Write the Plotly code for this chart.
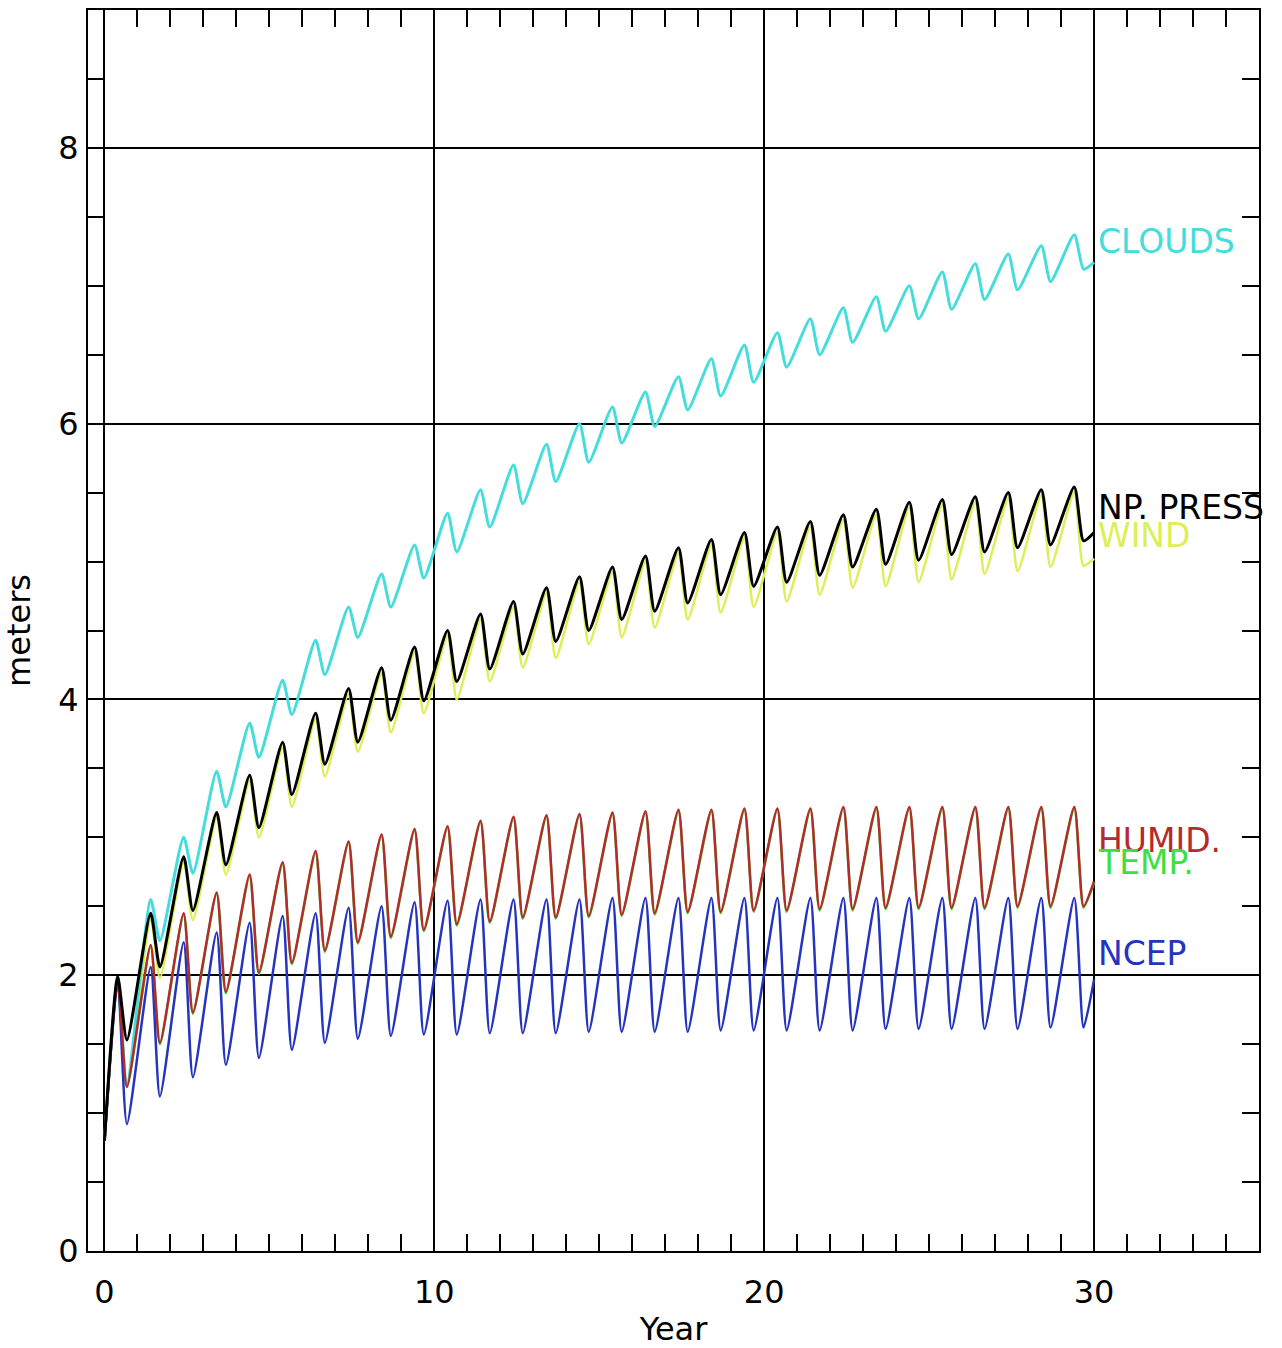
import plotly.graph_objects as go

# ---- data ----
n_years = 30
peak_phase = 0.4     # fraction of year at seasonal peak
trough_phase = 0.68  # fraction of year at seasonal trough
start_value = 0.8
end_year = 30.0

clouds_peaks = [1.98, 2.55, 3.00, 3.48, 3.83, 4.14, 4.43, 4.67, 4.91, 5.12,
                5.35, 5.52, 5.70, 5.85, 6.00, 6.12, 6.23, 6.34, 6.47, 6.57,
                6.66, 6.76, 6.84, 6.92, 7.00, 7.10, 7.16, 7.23, 7.29, 7.37]
clouds_troughs = [1.20, 2.25, 2.74, 3.22, 3.58, 3.89, 4.18, 4.45, 4.67, 4.88,
                  5.07, 5.25, 5.42, 5.58, 5.72, 5.86, 5.98, 6.10, 6.20, 6.30,
                  6.41, 6.50, 6.59, 6.67, 6.76, 6.83, 6.90, 6.97, 7.03, 7.12]
clouds_end = 7.17

press_peaks = [1.99, 2.45, 2.86, 3.18, 3.45, 3.69, 3.90, 4.08, 4.23, 4.38,
               4.50, 4.62, 4.71, 4.81, 4.89, 4.96, 5.04, 5.10, 5.16, 5.21,
               5.25, 5.29, 5.34, 5.38, 5.43, 5.45, 5.47, 5.50, 5.52, 5.54]
press_troughs = [1.53, 2.06, 2.47, 2.80, 3.07, 3.31, 3.53, 3.69, 3.85, 3.99,
                 4.13, 4.22, 4.33, 4.42, 4.50, 4.58, 4.64, 4.70, 4.76, 4.82,
                 4.85, 4.90, 4.96, 4.98, 5.01, 5.05, 5.07, 5.10, 5.12, 5.15]
press_end = 5.21

wind_peaks = [1.96, 2.41, 2.82, 3.14, 3.41, 3.65, 3.86, 4.04, 4.19, 4.34,
              4.46, 4.58, 4.67, 4.77, 4.85, 4.92, 5.00, 5.06, 5.12, 5.17,
              5.21, 5.25, 5.30, 5.34, 5.39, 5.41, 5.43, 5.46, 5.48, 5.50]
wind_troughs = [1.20, 1.98, 2.40, 2.73, 3.00, 3.22, 3.44, 3.62, 3.76, 3.90,
                4.00, 4.13, 4.23, 4.30, 4.40, 4.45, 4.52, 4.58, 4.63, 4.67,
                4.71, 4.76, 4.81, 4.82, 4.85, 4.87, 4.91, 4.93, 4.96, 4.97]
wind_end = 5.02

humid_peaks = [1.97, 2.22, 2.45, 2.60, 2.73, 2.82, 2.90, 2.97, 3.02, 3.06,
               3.08, 3.12, 3.15, 3.16, 3.17, 3.18, 3.19, 3.20, 3.20, 3.21,
               3.21, 3.21, 3.22, 3.22, 3.22, 3.22, 3.22, 3.22, 3.22, 3.22]
humid_troughs = [1.19, 1.51, 1.73, 1.88, 2.02, 2.09, 2.18, 2.24, 2.28, 2.33,
                 2.37, 2.39, 2.42, 2.42, 2.43, 2.44, 2.45, 2.46, 2.46, 2.47,
                 2.47, 2.48, 2.48, 2.49, 2.49, 2.49, 2.49, 2.50, 2.50, 2.50]
humid_end = 2.68

temp_peaks = [1.96, 2.21, 2.44, 2.59, 2.72, 2.81, 2.89, 2.96, 3.01, 3.05,
              3.07, 3.11, 3.14, 3.15, 3.16, 3.17, 3.18, 3.19, 3.19, 3.20,
              3.20, 3.20, 3.21, 3.21, 3.21, 3.21, 3.21, 3.21, 3.21, 3.21]
temp_troughs = [1.19, 1.50, 1.72, 1.87, 2.01, 2.08, 2.17, 2.23, 2.27, 2.32,
                2.36, 2.38, 2.41, 2.41, 2.42, 2.43, 2.44, 2.45, 2.45, 2.46,
                2.46, 2.47, 2.47, 2.48, 2.48, 2.48, 2.48, 2.49, 2.49, 2.49]
temp_end = 2.67

ncep_peaks = [1.96, 2.06, 2.24, 2.31, 2.38, 2.43, 2.45, 2.49, 2.50, 2.53,
              2.54, 2.55, 2.55, 2.55, 2.55, 2.56, 2.56, 2.56, 2.56, 2.56,
              2.56, 2.56, 2.56, 2.56, 2.56, 2.56, 2.56, 2.56, 2.56, 2.56]
ncep_troughs = [0.92, 1.12, 1.26, 1.35, 1.40, 1.46, 1.51, 1.54, 1.56, 1.57,
                1.57, 1.58, 1.58, 1.58, 1.59, 1.59, 1.59, 1.59, 1.60, 1.60,
                1.60, 1.60, 1.60, 1.61, 1.61, 1.61, 1.61, 1.61, 1.62, 1.62]
ncep_end = 1.97

series_names = ["WIND", "TEMP.", "CLOUDS", "NCEP", "HUMID.", "NP. PRESS"]
label_y = {"CLOUDS": 7.32, "NP. PRESS": 5.39, "WIND": 5.19,
           "HUMID.": 2.98, "TEMP.": 2.82, "NCEP": 2.16}
x_ticks = [0, 10, 20, 30]
y_ticks = [0, 2, 4, 6, 8]

# ---- styling ----
colors = {"CLOUDS": "#45dcdc", "NP. PRESS": "#000000", "WIND": "#dcef55",
          "HUMID.": "#b52a2a", "TEMP.": "#3ee03e", "NCEP": "#2434bf"}
widths = {"CLOUDS": 3, "NP. PRESS": 3, "WIND": 2.5,
          "HUMID.": 2.5, "TEMP.": 2.5, "NCEP": 2.5}
data = {
    "CLOUDS": (clouds_peaks, clouds_troughs, clouds_end),
    "NP. PRESS": (press_peaks, press_troughs, press_end),
    "WIND": (wind_peaks, wind_troughs, wind_end),
    "HUMID.": (humid_peaks, humid_troughs, humid_end),
    "TEMP.": (temp_peaks, temp_troughs, temp_end),
    "NCEP": (ncep_peaks, ncep_troughs, ncep_end),
}


def build(peaks, troughs, end):
    xs, ys = [0.0], [start_value]
    for i in range(n_years):
        xs += [i + peak_phase, i + trough_phase]
        ys += [peaks[i], troughs[i]]
    xs.append(end_year)
    ys.append(end)
    return xs, ys


FONT = "DejaVu Sans"
fig = go.Figure()
for name in series_names:
    p, t, e = data[name]
    xs, ys = build(p, t, e)
    fig.add_trace(go.Scatter(
        x=xs, y=ys, mode="lines", name=name,
        line=dict(color=colors[name], width=widths[name], shape="spline", smoothing=0.6),
        showlegend=False, cliponaxis=True))

for name in ["CLOUDS", "NP. PRESS", "WIND", "HUMID.", "TEMP.", "NCEP"]:
    fig.add_annotation(x=30.05, y=label_y[name], text=name, showarrow=False,
                       xanchor="left", yanchor="middle", xref="x", yref="y",
                       font=dict(family=FONT, size=33, color=colors[name]))

axis_common = dict(
    showline=True, linecolor="black", linewidth=2, mirror="allticks",
    showgrid=True, gridcolor="black", gridwidth=2,
    ticks="inside", ticklen=17, tickwidth=2, tickcolor="black",
    tickfont=dict(family=FONT, size=32, color="black"),
    automargin=False,
)

fig.update_xaxes(
    range=[-0.5, 35], tickmode="array", tickvals=x_ticks,
    zeroline=True, zerolinecolor="black", zerolinewidth=2,
    minor=dict(dtick=1, tick0=0, ticks="inside", ticklen=17, tickwidth=2,
               tickcolor="black", showgrid=False),
    title=dict(text="Year", font=dict(family=FONT, size=32, color="black"), standoff=12),
    ticklabelstandoff=12,
    **axis_common)
fig.update_yaxes(
    range=[0, 9], tickmode="array", tickvals=y_ticks,
    zeroline=False,
    minor=dict(dtick=0.5, tick0=0, ticks="inside", ticklen=17, tickwidth=2,
               tickcolor="black", showgrid=False),
    title=dict(text="meters", font=dict(family=FONT, size=32, color="black"), standoff=30),
    ticklabelstandoff=1,
    **axis_common)

fig.update_layout(
    width=1282, height=1348,
    margin=dict(l=88, r=23, t=10, b=97),
    plot_bgcolor="white", paper_bgcolor="white",
)

fig.write_html("out.html", config={"displayModeBar": False},
               post_script="document.body.style.margin='0';document.body.style.overflow='hidden';")
